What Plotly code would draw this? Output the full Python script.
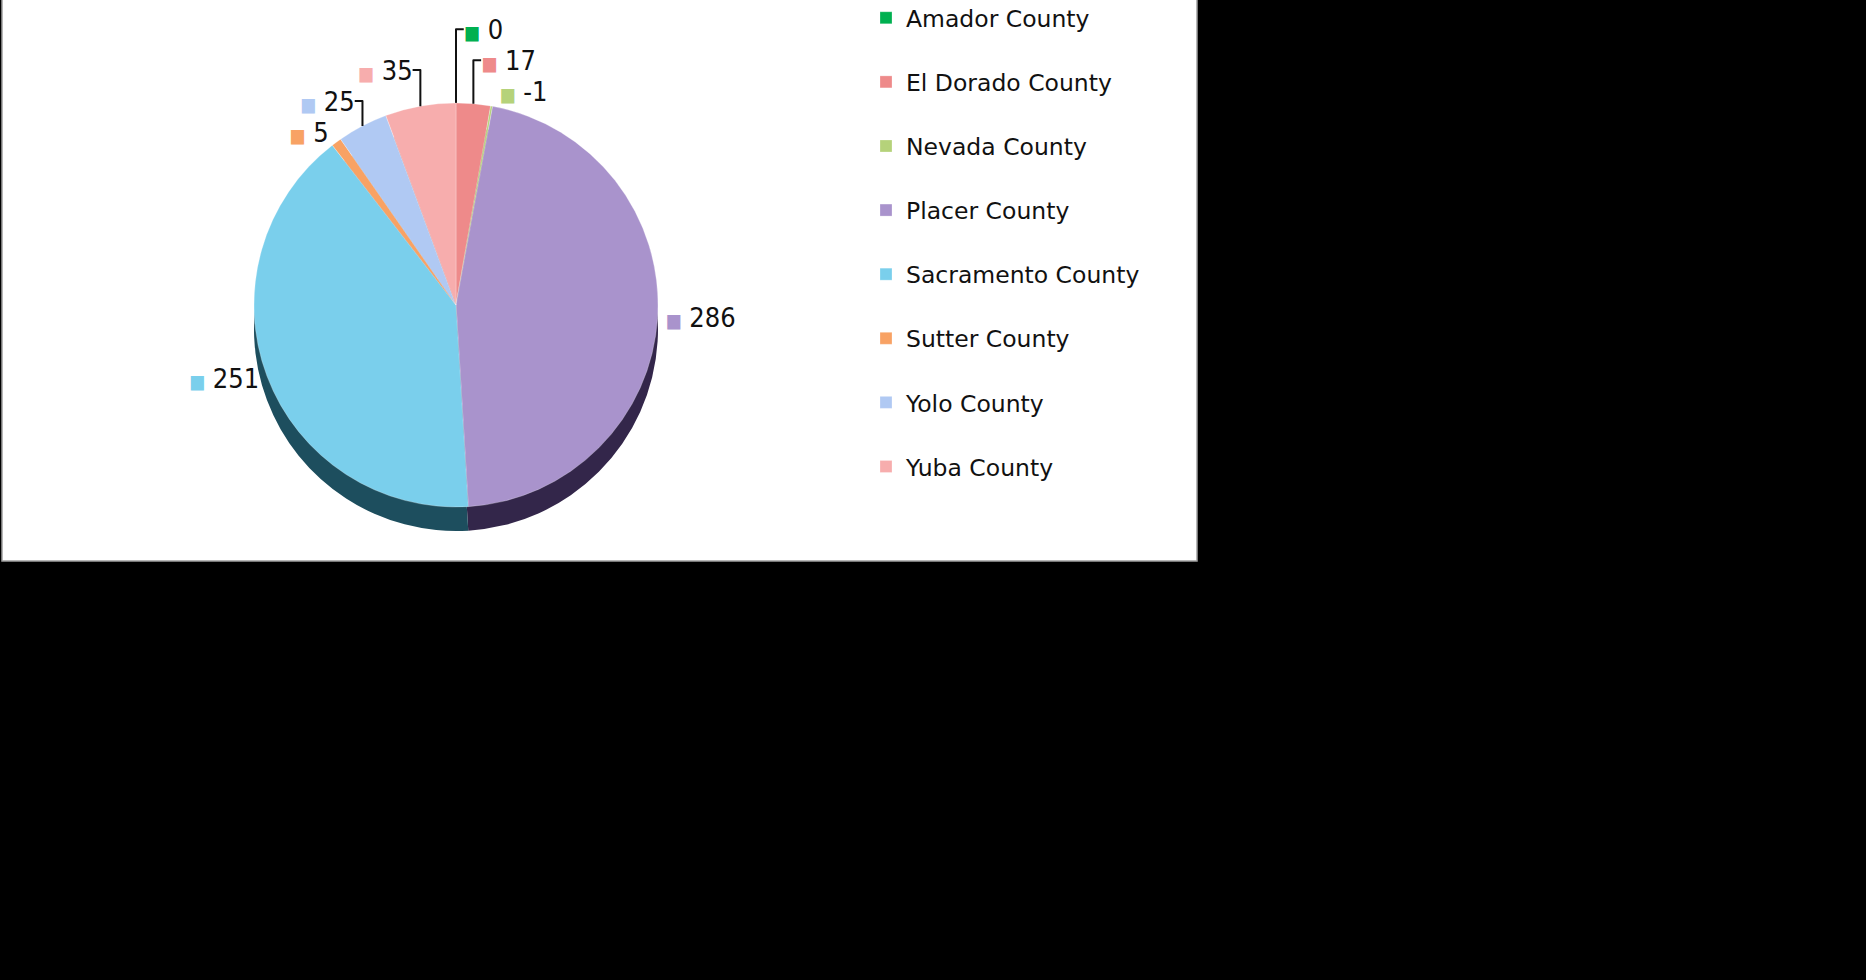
import plotly.graph_objects as go

# county data, clockwise from 12 o'clock
counties = ['Amador County', 'El Dorado County', 'Nevada County', 'Placer County',
            'Sacramento County', 'Sutter County', 'Yolo County', 'Yuba County']
values = [0, 17, -1, 286, 251, 5, 25, 35]

face_colors = ['#00B050', '#EE8A8A', '#B5D27A', '#A993CC',
               '#7ACFEC', '#F8A264', '#B0C9F3', '#F7ADAD']
side_colors = ['#006A30', '#7A3A3A', '#5E7236', '#33264A',
               '#1D4E5E', '#8A4A1E', '#4F6389', '#8A5050']

W, H = 1866, 980
cx, cy, r, depth = 456, 305, 202, 24

# slice size uses magnitude (the -1 still shows as a sliver)
sizes = [abs(v) for v in values]
texts = ['<span style="color:%s;font-size:19px">&#9632;</span> %d' % (c, v)
         for c, v in zip(face_colors, values)]
legend_names = [c + '<br> ' for c in counties]

def dom(y_center):
    return dict(x=[(cx - r) / W, (cx + r) / W],
                y=[1 - (y_center + r) / H, 1 - (y_center - r) / H])

fig = go.Figure()

# side of the "3d" pie, shifted down
fig.add_trace(go.Pie(labels=legend_names, values=sizes, sort=False, direction='clockwise',
                     rotation=0, domain=dom(cy + depth), textinfo='none', showlegend=False,
                     hoverinfo='skip', marker=dict(colors=side_colors, line=dict(width=0))))

fig.add_trace(go.Pie(labels=legend_names, values=sizes, sort=False, direction='clockwise',
                     rotation=0, domain=dom(cy), text=texts, textinfo='text',
                     textposition='outside', automargin=False,
                     outsidetextfont=dict(size=27, color='#111111',
                                          family='DejaVu Sans Condensed, DejaVu Sans, sans-serif'),
                     marker=dict(colors=face_colors, line=dict(width=0.5, color='rgba(255,255,255,0.5)')),
                     hovertemplate='%{label}: %{text}<extra></extra>'))

fig.add_shape(type='rect', xref='paper', yref='paper', x0=2 / W, x1=1197 / W,
              y0=1 - 561 / H, y1=1.01, line=dict(color='#A0A0A0', width=1.5),
              fillcolor='white', layer='below')

fig.update_layout(width=W, height=H, margin=dict(l=0, r=0, t=0, b=0, autoexpand=False),
                  paper_bgcolor='black', plot_bgcolor='black',
                  font=dict(family='DejaVu Sans, sans-serif', color='#111111'),
                  showlegend=True,
                  legend=dict(x=866 / W, y=1 + 4 / H, xanchor='left', yanchor='top',
                              valign='top', font=dict(size=23.5, color='#111111'),
                              bgcolor='rgba(0,0,0,0)', traceorder='normal',
                              itemwidth=30, maxheight=900))

# drop the default page margin so the figure sits at the window corner
fig.write_html('out.html', config={'displayModeBar': False},
               post_script="document.body.style.margin='0';")
